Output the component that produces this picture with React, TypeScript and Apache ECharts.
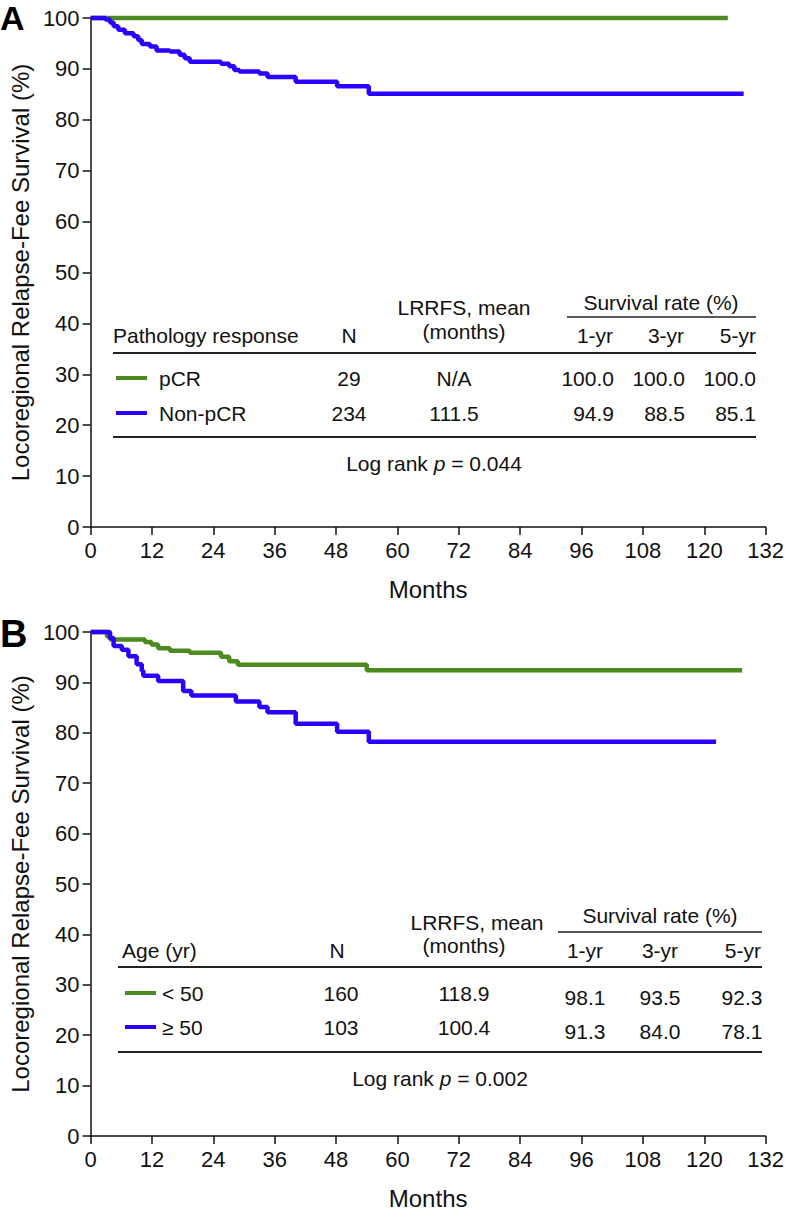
import React, { useEffect, useRef } from "react";
import * as echarts from "echarts";

// ---------- Data ----------
const xTicks = [0, 12, 24, 36, 48, 60, 72, 84, 96, 108, 120, 132];

// Panel A: pathology response
const aPcrMonths = [0, 124.6];
const aPcrSurv = [100, 100];
const aNonPcrMonths = [0, 2.9, 3.8, 4.5, 5.4, 6.7, 8.4, 9.3, 10.0, 11.6, 12.9, 15.5, 17.4, 18.4, 19.4, 25.5, 27.1, 28.1, 29.1, 33.0, 34.6, 40.1, 48.2, 54.4, 127.7];
const aNonPcrSurv = [100, 99.7, 99.1, 98.4, 97.7, 97.0, 96.4, 95.7, 94.9, 94.4, 93.6, 93.4, 92.8, 92.1, 91.4, 91.0, 90.5, 89.8, 89.5, 89.1, 88.4, 87.5, 86.6, 85.1, 85.1];

// Panel B: age
const bYoungMonths = [0, 3.2, 3.8, 10.6, 11.9, 13.2, 15.5, 19.4, 25.5, 27.1, 28.8, 54.0, 127.4];
const bYoungSurv = [100, 99.1, 98.5, 98.0, 97.5, 96.8, 96.3, 95.9, 95.1, 94.2, 93.5, 92.4, 92.4];
const bOldMonths = [0, 3.8, 4.5, 6.1, 7.4, 9.0, 10.0, 10.3, 13.2, 18.1, 19.7, 28.4, 33.0, 34.6, 40.1, 48.2, 54.4, 122.3];
const bOldSurv = [100, 98.8, 97.2, 96.5, 95.2, 93.6, 92.3, 91.3, 90.3, 88.3, 87.4, 86.2, 85.1, 84.1, 81.8, 80.2, 78.2, 78.2];

// Tables
const tableAGroups = ["pCR", "Non-pCR"];
const tableAN = ["29", "234"];
const tableAMean = ["N/A", "111.5"];
const tableA1yr = ["100.0", "94.9"];
const tableA3yr = ["100.0", "88.5"];
const tableA5yr = ["100.0", "85.1"];
const tableAP = "0.044";

const tableBGroups = ["< 50", "\u2265 50"];
const tableBN = ["160", "103"];
const tableBMean = ["118.9", "100.4"];
const tableB1yr = ["98.1", "91.3"];
const tableB3yr = ["93.5", "84.0"];
const tableB5yr = ["92.3", "78.1"];
const tableBP = "0.002";

const GREEN = "#4a8a1e";
const BLUE = "#2a00ff";
const FONT = "'Liberation Sans', Arial, Helvetica, sans-serif";
const TS = 21;

const pairs = (xs: number[], ys: number[]) => xs.map((x, i) => [x, ys[i]]);

function txt(x: number, y: number, text: string, align: string = "left", size = TS) {
  return {
    type: "text",
    x,
    y,
    silent: true,
    style: {
      text,
      fill: "#111",
      font: `${size}px ${FONT}`,
      textAlign: align,
      textVerticalAlign: "middle",
    },
  };
}
function hline(x1: number, x2: number, y: number, w = 2, color = "#222") {
  return {
    type: "line",
    silent: true,
    shape: { x1, y1: y, x2, y2: y },
    style: { stroke: color, lineWidth: w },
  };
}
function pText(x: number, y: number, p: string) {
  return {
    type: "text",
    x,
    y,
    silent: true,
    style: {
      text: `{a|Log rank }{i|p}{a| = ${p}}`,
      textAlign: "center",
      textVerticalAlign: "middle",
      rich: {
        a: { fontSize: TS, fontFamily: FONT, fill: "#111", color: "#111" },
        i: { fontSize: TS, fontFamily: FONT, fontStyle: "italic", fill: "#111", color: "#111" },
      },
    },
  };
}

function buildGraphics() {
  const g: any[] = [];
  // Panel letters
  g.push({ type: "text", x: 0, y: 18, silent: true, style: { text: "A", font: `bold 34px ${FONT}`, fill: "#000", textVerticalAlign: "middle" } });
  g.push({ type: "text", x: 0, y: 634, silent: true, style: { text: "B", font: `bold 38px ${FONT}`, fill: "#000", textVerticalAlign: "middle" } });

  // Table A
  g.push(txt(661, 302, "Survival rate (%)", "center"));
  g.push(hline(567, 756, 317, 1.5));
  g.push(txt(464, 307, "LRRFS, mean", "center"));
  g.push(txt(464, 331, "(months)", "center"));
  g.push(txt(113, 335, "Pathology response", "left"));
  g.push(txt(349, 335, "N", "center"));
  g.push(txt(595, 335, "1-yr", "center"));
  g.push(txt(666, 335, "3-yr", "center"));
  g.push(txt(756, 335, "5-yr", "right"));
  g.push(hline(113, 756, 353, 2));
  const rowYA = [378, 413];
  const colorsA = [GREEN, BLUE];
  rowYA.forEach((y, i) => {
    g.push(hline(116, 147, y, 4, colorsA[i]));
    g.push(txt(159, y, tableAGroups[i], "left"));
    g.push(txt(349, y, tableAN[i], "center"));
    g.push(txt(454, y, tableAMean[i], "center"));
    g.push(txt(614, y, tableA1yr[i], "right"));
    g.push(txt(685, y, tableA3yr[i], "right"));
    g.push(txt(756, y, tableA5yr[i], "right"));
  });
  g.push(hline(113, 756, 437, 2));
  g.push(pText(434, 463, tableAP));

  // Table B
  g.push(txt(660, 915, "Survival rate (%)", "center"));
  g.push(hline(558, 762, 932, 1.5));
  g.push(txt(477, 922, "LRRFS, mean", "center"));
  g.push(txt(464, 945, "(months)", "center"));
  g.push(txt(122, 950, "Age (yr)", "left"));
  g.push(txt(337, 950, "N", "center"));
  g.push(txt(585, 950, "1-yr", "center"));
  g.push(txt(660, 950, "3-yr", "center"));
  g.push(txt(761, 950, "5-yr", "right"));
  g.push(hline(118, 762, 967, 2));
  const rowYB = [993, 1027];
  rowYB.forEach((y, i) => {
    g.push(hline(125, 156, y, 4, colorsA[i]));
    g.push(txt(162, y, tableBGroups[i], "left"));
    g.push(txt(341, y, tableBN[i], "center"));
    g.push(txt(464, y, tableBMean[i], "center"));
    g.push(txt(585, y + 4, tableB1yr[i], "center"));
    g.push(txt(660, y + 4, tableB3yr[i], "center"));
    g.push(txt(742, y + 4, tableB5yr[i], "center"));
  });
  g.push(hline(118, 762, 1052, 2));
  g.push(pText(440, 1078, tableBP));
  return g;
}

function xAxis(gridIndex: number) {
  return {
    type: "value",
    gridIndex,
    min: 0,
    max: 132,
    interval: 12,
    name: "Months",
    nameLocation: "middle",
    nameGap: 50,
    nameTextStyle: { fontSize: 24, fontFamily: FONT, color: "#111" },
    axisLine: { show: true, onZero: false, lineStyle: { color: "#111", width: 1.5 } },
    axisTick: { show: true, length: 8, inside: false, lineStyle: { color: "#111", width: 1.5 } },
    axisLabel: { fontSize: 22, fontFamily: FONT, color: "#111", margin: 12, showMaxLabel: true, showMinLabel: true },
    splitLine: { show: false },
  };
}
function yAxis(gridIndex: number) {
  return {
    type: "value",
    gridIndex,
    min: 0,
    max: 100,
    interval: 10,
    name: "Locoregional Relapse-Fee Survival (%)",
    nameLocation: "middle",
    nameRotate: 90,
    nameGap: 58,
    nameTextStyle: { fontSize: 24, fontFamily: FONT, color: "#111" },
    axisLine: { show: true, onZero: false, lineStyle: { color: "#111", width: 1.5 } },
    axisTick: { show: true, length: 8, inside: false, lineStyle: { color: "#111", width: 1.5 } },
    axisLabel: { fontSize: 22, fontFamily: FONT, color: "#111", margin: 11 },
    splitLine: { show: false },
  };
}
function km(name: string, xi: number, xs: number[], ys: number[], color: string) {
  return {
    type: "line",
    name,
    xAxisIndex: xi,
    yAxisIndex: xi,
    data: pairs(xs, ys),
    step: "end",
    showSymbol: false,
    symbol: "none",
    clip: false,
    lineStyle: { color, width: 4.5 },
    itemStyle: { color },
  };
}

export default function App() {
  const ref = useRef<HTMLDivElement>(null);
  useEffect(() => {
    if (!ref.current) return;
    const chart = echarts.init(ref.current, null, { renderer: "svg" });
    chart.setOption({
      animation: false,
      backgroundColor: "#ffffff",
      grid: [
        { left: 87, top: 18, right: 20, height: 509 },
        { left: 87, top: 632, right: 20, height: 510 },
      ],
      xAxis: [xAxis(0), xAxis(1)],
      yAxis: [yAxis(0), yAxis(1)],
      series: [
        km("pCR", 0, aPcrMonths, aPcrSurv, GREEN),
        km("Non-pCR", 0, aNonPcrMonths, aNonPcrSurv, BLUE),
        km("< 50", 1, bYoungMonths, bYoungSurv, GREEN),
        km("\u2265 50", 1, bOldMonths, bOldSurv, BLUE),
      ],
      graphic: buildGraphics(),
    });
    return () => chart.dispose();
  }, []);
  return (
    <div
      ref={ref}
      style={{ position: "absolute", left: 0, top: 0, width: 787, height: 1211, background: "#fff" }}
    />
  );
}
